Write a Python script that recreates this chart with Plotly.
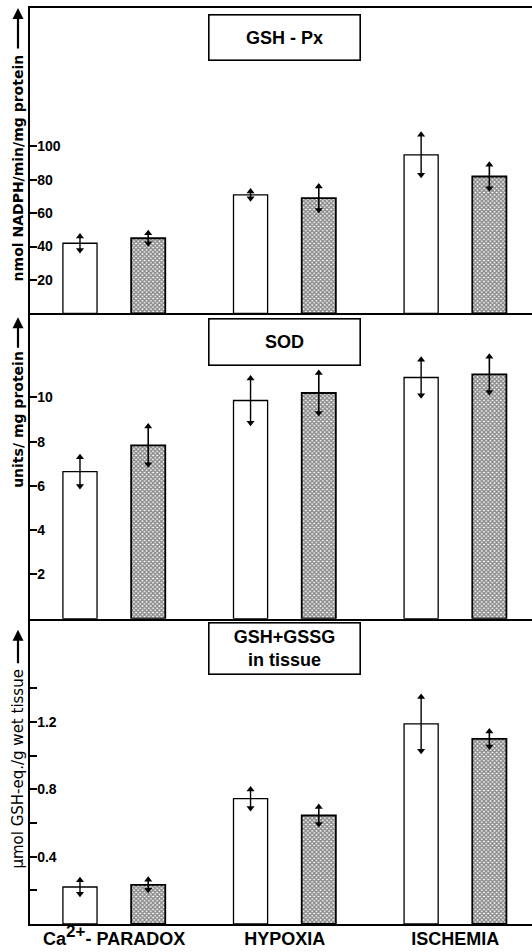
import plotly.graph_objects as go

# ---------------- data ----------------
groups = ["Ca<sup><span style='font-size:17px'>2+</span></sup>- PARADOX", "HYPOXIA", "ISCHEMIA"]

gpx_open = [42, 71, 95]
gpx_open_err = [4, 2, 12]
gpx_hatch = [45, 69, 82]
gpx_hatch_err = [3, 7, 7]

sod_open = [6.65, 9.86, 10.9]
sod_open_err = [0.65, 1.0, 0.8]
sod_hatch = [7.83, 10.2, 11.04]
sod_hatch_err = [0.85, 0.9, 0.8]

gsh_open = [0.22, 0.745, 1.19]
gsh_open_err = [0.04, 0.055, 0.16]
gsh_hatch = [0.233, 0.645, 1.10]
gsh_hatch_err = [0.03, 0.05, 0.045]

panel_titles = ["GSH - Px", "SOD", "GSH+GSSG<br>in tissue"]
y_titles = ["nmol NADPH/min/mg protein", "units/ mg protein", "μmol GSH-eq./g wet tissue"]

gpx_ticks = [20, 40, 60, 80, 100]
sod_ticks = [2, 4, 6, 8, 10]
gsh_ticks = [0.2, 0.4, 0.6, 0.8, 1.0, 1.2, 1.4]
gsh_ticktext = ["", "0.4", "", "0.8", "", "1.2", ""]

# ---------------- figure ----------------
fig = go.Figure()
BW = 0.2
idx = list(range(len(groups)))
x_open = [i - 0.2 for i in idx]
x_hatch = [i + 0.2 for i in idx]

panels = [
    (gpx_open, gpx_open_err, gpx_hatch, gpx_hatch_err, "x", "y"),
    (sod_open, sod_open_err, sod_hatch, sod_hatch_err, "x2", "y2"),
    (gsh_open, gsh_open_err, gsh_hatch, gsh_hatch_err, "x3", "y3"),
]

for vo, eo, vh, eh, xa, ya in panels:
    fig.add_trace(go.Bar(
        x=x_open, y=vo, width=BW, xaxis=xa, yaxis=ya,
        marker=dict(color="white", line=dict(color="black", width=1.3)),
        error_y=dict(type="data", array=eo, visible=True, width=0, thickness=1.4, color="black"),
        showlegend=False,
    ))
    fig.add_trace(go.Bar(
        x=x_hatch, y=vh, width=BW, xaxis=xa, yaxis=ya,
        marker=dict(color="white", line=dict(color="black", width=1.8),
                    pattern=dict(shape="x", size=3, solidity=0.7, fgcolor="#111111", bgcolor="white")),
        error_y=dict(type="data", array=eh, visible=True, width=0, thickness=1.6, color="black"),
        showlegend=False,
    ))
    # arrow heads on the error bars
    xs = x_open + x_hatch
    vals = vo + vh
    errs = eo + eh
    fig.add_trace(go.Scatter(
        x=xs, y=[v + e for v, e in zip(vals, errs)], mode="markers", xaxis=xa, yaxis=ya,
        marker=dict(symbol="triangle-up", size=7, color="black"), showlegend=False, hoverinfo="skip",
    ))
    fig.add_trace(go.Scatter(
        x=xs, y=[v - e for v, e in zip(vals, errs)], mode="markers", xaxis=xa, yaxis=ya,
        marker=dict(symbol="triangle-down", size=7, color="black"), showlegend=False, hoverinfo="skip",
    ))

xr = [-0.493, 2.45]
xcommon = dict(range=xr, showgrid=False, zeroline=False, showline=True, linecolor="black",
               linewidth=2, ticks="", fixedrange=True)
ycommon = dict(showgrid=False, zeroline=False, showline=True, linecolor="black", linewidth=2,
               ticks="inside", ticklen=7, tickwidth=1.5, tickcolor="black",
               ticklabelposition="inside",
               tickfont=dict(family="Liberation Sans, Arial", size=14, color="black", weight="bold"))

fig.update_layout(
    width=532, height=952,
    margin=dict(l=30, r=0, t=8, b=28),
    paper_bgcolor="white", plot_bgcolor="white",
    barmode="overlay",
    xaxis=dict(**xcommon, anchor="y", mirror=True, showticklabels=False),
    xaxis2=dict(**xcommon, anchor="y2", matches="x", showticklabels=False),
    xaxis3=dict(**xcommon, anchor="y3", matches="x", tickmode="array", tickvals=idx, ticktext=groups,
                ticklabelstandoff=-3,
                tickfont=dict(family="Liberation Sans, Arial", size=18, color="black", weight="bold")),
    yaxis=dict(**ycommon, domain=[2/3, 1], range=[0, 183], tickmode="array", tickvals=gpx_ticks),
    yaxis2=dict(**ycommon, domain=[1/3, 2/3], range=[0, 13.8], tickmode="array", tickvals=sod_ticks),
    yaxis3=dict(**ycommon, domain=[0, 1/3], range=[0, 1.815], tickmode="array", tickvals=gsh_ticks,
                ticktext=gsh_ticktext),
)

# panel title boxes
box_y = [0.904, 0.905, 0.903]
box_h = [42, 43, 48]
for k, (t, ya) in enumerate(zip(panel_titles, ["y", "y2", "y3"])):
    fig.add_annotation(
        text=t, xref="x" if k == 0 else "x%d" % (k + 1), x=1,
        yref=ya + " domain", y=box_y[k], xanchor="center", yanchor="middle",
        showarrow=False, width=148, height=box_h[k], bgcolor="white",
        bordercolor="black", borderwidth=1.6, borderpad=1,
        font=dict(family="Liberation Sans, Arial", size=18, color="black", weight="bold"),
    )

# y-axis titles with upward arrows
title_x = -12 / 502
arrow_tip = [1.0, 0.987, 0.964]
arrow_len = [42, 32, 35]
text_top = [0.853, 0.882, 0.843]
title_fonts = [
    dict(family="DejaVu Sans", size=14, color="black", weight="bold"),
    dict(family="DejaVu Sans", size=14, color="black", weight="bold"),
    dict(family="DejaVu Sans", size=15, color="black"),
]
for k, ya in enumerate(["y", "y2", "y3"]):
    fig.add_annotation(
        text="", xref="paper", x=title_x, yref=ya + " domain", y=arrow_tip[k],
        showarrow=True, ax=0, ay=arrow_len[k], arrowhead=2, arrowsize=1, arrowwidth=2.2,
        arrowcolor="black", standoff=0,
    )
    fig.add_annotation(
        text=y_titles[k], textangle=-90, xref="paper", x=title_x, xanchor="center",
        yref=ya + " domain", y=text_top[k], yanchor="top", showarrow=False,
        font=title_fonts[k],
    )

fig.write_html("out.html", config={"displayModeBar": False},
               post_script="document.body.style.margin='0';")
